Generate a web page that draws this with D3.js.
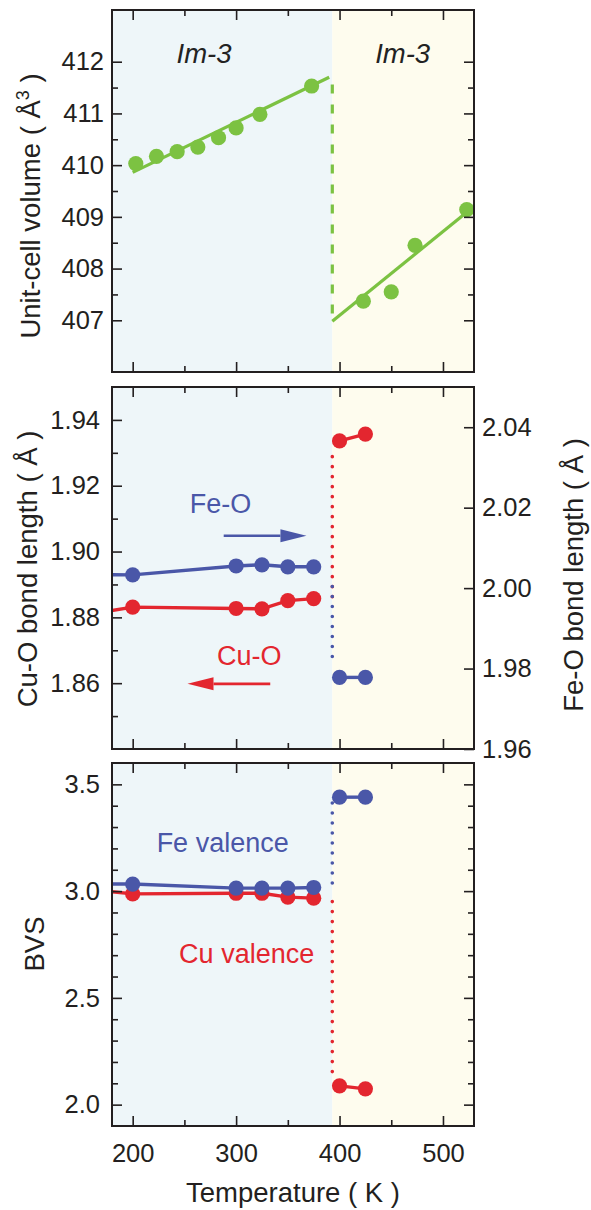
<!DOCTYPE html>
<html>
<head>
<meta charset="utf-8">
<script src="https://cdn.jsdelivr.net/npm/d3@7"></script>
<style>
  body { margin: 0; background: #fff; }
</style>
</head>
<body>
<div id="chart"></div>
<script>
// ---- data ----
// unit-cell volume (A^3) vs temperature (K)
const volTemps = [203, 223, 243, 263, 283, 300, 323, 373, 423, 450, 473, 523];
const volValues = [410.03, 410.17, 410.26, 410.35, 410.53, 410.72, 410.98, 411.53, 407.37, 407.55, 408.45, 409.14];
const volFitLowT = [200, 390];
const volFitLowV = [409.86, 411.70];
const volFitHighT = [393, 523];
const volFitHighV = [406.98, 409.09];
const volJump = [411.56, 407.10];
const phaseNames = ["Im-3", "Im-3"];
const phaseNameT = [269, 461];

// bond lengths (A)
const bondTempsLow = [100, 200, 300, 325, 350, 375];
const bondTempsHigh = [400, 425];
const feOLow = [2.0035, 2.0033, 2.0055, 2.0058, 2.0053, 2.0053];
const feOHigh = [1.9778, 1.9778];
const cuOLow = [1.878, 1.8831, 1.8827, 1.8826, 1.8851, 1.8857];
const cuOHigh = [1.9336, 1.9357];
const feOJump = [2.0004, 1.9822];
const cuOJump = [1.8863, 1.9304];

// bond valence sums
const bvsFeLow = [3.033, 3.033, 3.014, 3.014, 3.014, 3.017];
const bvsFeHigh = [3.44, 3.44];
const bvsCuLow = [3.038, 2.987, 2.99, 2.99, 2.972, 2.967];
const bvsCuHigh = [2.088, 2.074];
const bvsFeJump = [3.413, 3.014];
const bvsCuJump = [2.951, 2.139];

const transitionT = 393;

// ticks
const xMajor = [200, 300, 400, 500];
const xMinor = [250, 350, 450];
const volMajor = [407, 408, 409, 410, 411, 412];
const volMinor = [407.5, 408.5, 409.5, 410.5, 411.5];
const cuMajor = [1.86, 1.88, 1.90, 1.92, 1.94];
const cuMinor = [1.85, 1.87, 1.89, 1.91, 1.93];
const feMajor = [1.96, 1.98, 2.00, 2.02, 2.04];
const bvsMajor = [2.0, 2.5, 3.0, 3.5];
const bvsMinor = [2.1, 2.2, 2.3, 2.4, 2.6, 2.7, 2.8, 2.9, 3.1, 3.2, 3.3, 3.4];

// ---- styles ----
const font = '"Liberation Sans", Arial, sans-serif';
const ink = "#231f20";
const green = "#7cc242";
const blue = "#4a57a8";
const red = "#e3262f";
const bgLow = "#eef6f9";
const bgHigh = "#fefcee";

const width = 591, height = 1210;
const left = 112, pw = 362;

const svg = d3.select("#chart").append("svg")
  .attr("width", width)
  .attr("height", height)
  .attr("viewBox", "0 0 " + width + " " + height);

const x = d3.scaleLinear().domain([180, 530]).range([0, pw]);

function makePanel(top, ph, id) {
  const g = svg.append("g").attr("transform", "translate(" + left + "," + top + ")");
  g.append("clipPath").attr("id", id).append("rect").attr("width", pw).attr("height", ph);
  g.append("rect").attr("width", x(transitionT)).attr("height", ph).attr("fill", bgLow);
  g.append("rect").attr("x", x(transitionT)).attr("width", pw - x(transitionT)).attr("height", ph).attr("fill", bgHigh);
  const data = g.append("g").attr("clip-path", "url(#" + id + ")");
  return { g: g, data: data, h: ph };
}

function addAxis(g, axis, values, size, fmt, pad, tr) {
  const a = g.append("g")
    .attr("transform", tr || null)
    .call(axis.tickValues(values).tickSizeInner(-size).tickSizeOuter(0)
      .tickPadding(pad || 0).tickFormat(fmt || (() => "")));
  a.select(".domain").remove();
  a.selectAll("line").attr("stroke", ink).attr("stroke-width", 1.6);
  a.selectAll("text").attr("font-size", 25.5).attr("font-family", font).attr("fill", ink);
  return a;
}

function frame(p, showX) {
  addAxis(p.g, d3.axisTop(x), xMajor, 10);
  addAxis(p.g, d3.axisTop(x), xMinor, 6);
  addAxis(p.g, d3.axisBottom(x), xMajor, 10, showX ? d3.format("d") : null, 18, "translate(0," + p.h + ")");
  addAxis(p.g, d3.axisBottom(x), xMinor, 6, null, 0, "translate(0," + p.h + ")");
  p.g.append("rect").attr("width", pw).attr("height", p.h)
    .attr("fill", "none").attr("stroke", ink).attr("stroke-width", 2);
}

function series(p, y, temps, vals, color) {
  const pts = temps.map((t, i) => [x(t), y(vals[i])]);
  p.data.append("path").attr("d", d3.line()(pts))
    .attr("fill", "none").attr("stroke", color).attr("stroke-width", 3.4);
  p.data.selectAll(null).data(pts).enter().append("circle")
    .attr("cx", d => d[0]).attr("cy", d => d[1]).attr("r", 7.6).attr("fill", color);
}

function jump(p, y, vals, color, dash, w) {
  p.data.append("line")
    .attr("x1", x(transitionT)).attr("x2", x(transitionT))
    .attr("y1", y(vals[0])).attr("y2", y(vals[1]))
    .attr("stroke", color).attr("stroke-width", w)
    .attr("stroke-dasharray", dash)
    .attr("stroke-linecap", dash.startsWith("0") ? "round" : "butt");
}

function label(g, tx, ty, str, color, size, italic, anchor) {
  return g.append("text").attr("x", tx).attr("y", ty)
    .attr("text-anchor", anchor || "middle")
    .attr("font-family", font).attr("font-size", size)
    .attr("font-style", italic ? "italic" : null)
    .attr("fill", color).text(str);
}

function arrow(g, t1, t2, yy, color) {
  const x1 = x(t1), x2 = x(t2), dir = Math.sign(x2 - x1);
  const base = x2 - dir * 26;
  g.append("line").attr("x1", x1).attr("x2", base).attr("y1", yy).attr("y2", yy)
    .attr("stroke", color).attr("stroke-width", 2.6);
  g.append("path")
    .attr("d", "M" + x2 + "," + yy + "L" + base + "," + (yy - 6.5) + "L" + base + "," + (yy + 6.5) + "Z")
    .attr("fill", color);
}

function yTitle(tx, ty, parts) {
  const t = svg.append("text")
    .attr("transform", "translate(" + tx + "," + ty + ") rotate(-90)")
    .attr("text-anchor", "middle")
    .attr("font-family", font).attr("font-size", 27.5).attr("fill", ink);
  parts.forEach(p => {
    t.append("tspan").text(p.s)
      .attr("dy", p.dy || null)
      .attr("font-size", p.size || null);
  });
}

// ---- panel 1: volume ----
const p1 = makePanel(10, 362, "clip1");
const yVol = d3.scaleLinear().domain([406, 413]).range([362, 0]);
[[volFitLowT, volFitLowV], [volFitHighT, volFitHighV]].forEach(f => {
  p1.data.append("path").attr("d", d3.line()(f[0].map((t, i) => [x(t), yVol(f[1][i])])))
    .attr("fill", "none").attr("stroke", green).attr("stroke-width", 3.2);
});
jump(p1, yVol, volJump, green, "9 11", 3.2);
p1.data.selectAll(null).data(volTemps).enter().append("circle")
  .attr("cx", d => x(d)).attr("cy", (d, i) => yVol(volValues[i]))
  .attr("r", 7.6).attr("fill", green);
phaseNames.forEach((n, i) => label(p1.g, x(phaseNameT[i]), yVol(411.98), n, "#222", 27.5, true));
addAxis(p1.g, d3.axisLeft(yVol), volMajor, 10, d3.format("d"), 8);
addAxis(p1.g, d3.axisLeft(yVol), volMinor, 6);
addAxis(p1.g, d3.axisRight(yVol), volMajor, 10, null, 0, "translate(" + pw + ",0)");
addAxis(p1.g, d3.axisRight(yVol), volMinor, 6, null, 0, "translate(" + pw + ",0)");
frame(p1, false);

// ---- panel 2: bond lengths ----
const p2 = makePanel(387, 362, "clip2");
const yCu = d3.scaleLinear().domain([1.84, 1.95]).range([362, 0]);
const yFe = d3.scaleLinear().domain([1.96, 2.05]).range([362, 0]);
jump(p2, yCu, cuOJump, red, "0 10", 3.6);
jump(p2, yFe, feOJump, blue, "0 10", 3.6);
series(p2, yFe, bondTempsLow, feOLow, blue);
series(p2, yFe, bondTempsHigh, feOHigh, blue);
series(p2, yCu, bondTempsLow, cuOLow, red);
series(p2, yCu, bondTempsHigh, cuOHigh, red);
label(p2.g, x(285), yFe(2.0186), "Fe-O", blue, 27);
arrow(p2.g, 288, 368, yFe(2.013), blue);
label(p2.g, x(312.7), yCu(1.8656), "Cu-O", red, 27);
arrow(p2.g, 333, 253, yCu(1.8598), red);
addAxis(p2.g, d3.axisLeft(yCu), cuMajor, 10, d3.format(".2f"), 12);
addAxis(p2.g, d3.axisLeft(yCu), cuMinor, 6);
addAxis(p2.g, d3.axisRight(yFe), feMajor, 10, d3.format(".2f"), 8, "translate(" + pw + ",0)");
frame(p2, false);

// ---- panel 3: BVS ----
const p3 = makePanel(763, 363, "clip3");
const yBvs = d3.scaleLinear().domain([1.9, 3.6]).range([363, 0]);
jump(p3, yBvs, bvsFeJump, blue, "0 10", 3.6);
jump(p3, yBvs, bvsCuJump, red, "0 10", 3.6);
series(p3, yBvs, bondTempsLow, bvsCuLow, red);
series(p3, yBvs, bondTempsLow, bvsFeLow, blue);
series(p3, yBvs, bondTempsHigh, bvsFeHigh, blue);
series(p3, yBvs, bondTempsHigh, bvsCuHigh, red);
label(p3.g, x(287), yBvs(3.181), "Fe valence", blue, 27);
label(p3.g, x(310.2), yBvs(2.665), "Cu valence", red, 27);
addAxis(p3.g, d3.axisLeft(yBvs), bvsMajor, 10, d3.format(".1f"), 12);
addAxis(p3.g, d3.axisLeft(yBvs), bvsMinor, 6);
addAxis(p3.g, d3.axisRight(yBvs), bvsMajor, 10, null, 0, "translate(" + pw + ",0)");
addAxis(p3.g, d3.axisRight(yBvs), bvsMinor, 6, null, 0, "translate(" + pw + ",0)");
frame(p3, true);

// ---- axis titles ----
yTitle(40, 206, [{ s: "Unit-cell volume ( Å" }, { s: "3", dy: -11, size: 18 }, { s: " )", dy: 11 }]);
yTitle(37, 569, [{ s: "Cu-O bond length ( Å )" }]);
yTitle(583, 575, [{ s: "Fe-O bond length ( Å )" }]);
yTitle(44, 944, [{ s: "BVS" }]);
label(svg, left + pw / 2, 1202, "Temperature ( K )", ink, 27.5);
</script>
</body>
</html>
